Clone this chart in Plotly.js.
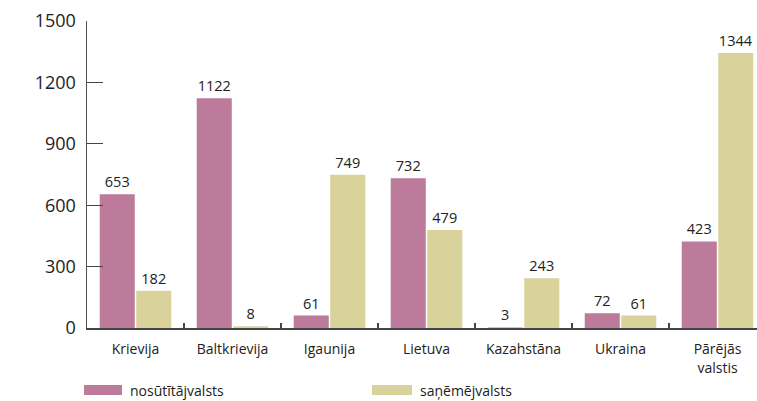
<!DOCTYPE html>
<html>
<head>
<meta charset="utf-8">
<script src="https://cdn.plot.ly/plotly-3.0.1.min.js"></script>
<style>html,body{margin:0;padding:0;background:#fff;}</style>
</head>
<body>
<div id="chart" style="width:757px;height:401px;"></div>
<script>
const categories = ["Krievija", "Baltkrievija", "Igaunija", "Lietuva", "Kazahstāna", "Ukraina", "Pārējās<br>valstis"];
const sendingValues = [653, 1122, 61, 732, 3, 72, 423];
const receivingValues = [182, 8, 749, 479, 243, 61, 1344];
const seriesNames = ["nosūtītājvalsts", "saņēmējvalsts"];
const yTicks = [0, 300, 600, 900, 1200, 1500];

const pink = "#BD7B9B";
const beige = "#D9D29B";
const font = "Open Sans, Noto Sans, sans-serif";

const traces = [
  {type: "bar", name: seriesNames[0], x: categories, y: sendingValues,
   marker: {color: pink}, text: sendingValues.map(String), textposition: "outside",
   cliponaxis: false, textfont: {size: 14.5, color: "#222", family: font}, showlegend: false},
  {type: "bar", name: seriesNames[1], x: categories, y: receivingValues,
   marker: {color: beige}, text: receivingValues.map(String), textposition: "outside",
   cliponaxis: false, textfont: {size: 14.5, color: "#222", family: font}, showlegend: false}
];

const layout = {
  width: 757, height: 401,
  margin: {l: 87, r: 0, t: 21, b: 73},
  paper_bgcolor: "#fff", plot_bgcolor: "#fff",
  barmode: "group", bargap: 0.247, bargroupgap: 0.04,
  font: {family: font, color: "#222"},
  xaxis: {
    type: "category", range: [-0.5, 6.407],
    showline: true, linecolor: "#444", linewidth: 1.5,
    ticks: "inside", tickson: "boundaries", ticklen: 5, tickcolor: "#444", tickwidth: 1.2,
    ticklabelstandoff: 8,
    tickfont: {size: 14, family: font, color: "#222"},
    showgrid: false, zeroline: false, fixedrange: true
  },
  yaxis: {
    range: [0, 1500], tickvals: yTicks, ticktext: yTicks.map(String),
    showline: true, linecolor: "#555", linewidth: 1.5,
    ticks: "inside", ticklen: 16, tickcolor: "#444", tickwidth: 1.2,
    ticklabelstandoff: 6,
    tickfont: {size: 18, family: font, color: "#222"},
    showgrid: false, zeroline: false, fixedrange: true
  },
  shapes: [
    {type: "rect", xref: "paper", yref: "paper", x0: -0.0045, x1: 0.0522, y0: -0.186, y1: -0.218, fillcolor: pink, line: {width: 0}},
    {type: "rect", xref: "paper", yref: "paper", x0: 0.4254, x1: 0.4851, y0: -0.186, y1: -0.218, fillcolor: beige, line: {width: 0}}
  ],
  annotations: [
    {xref: "paper", yref: "paper", x: 0.0612, y: -0.202, xanchor: "left", yanchor: "middle", showarrow: false,
     text: seriesNames[0], font: {size: 14, family: font, color: "#222"}},
    {xref: "paper", yref: "paper", x: 0.494, y: -0.202, xanchor: "left", yanchor: "middle", showarrow: false,
     text: seriesNames[1], font: {size: 14, family: font, color: "#222"}}
  ]
};

Plotly.newPlot("chart", traces, layout, {displayModeBar: false, staticPlot: true});
</script>
</body>
</html>
